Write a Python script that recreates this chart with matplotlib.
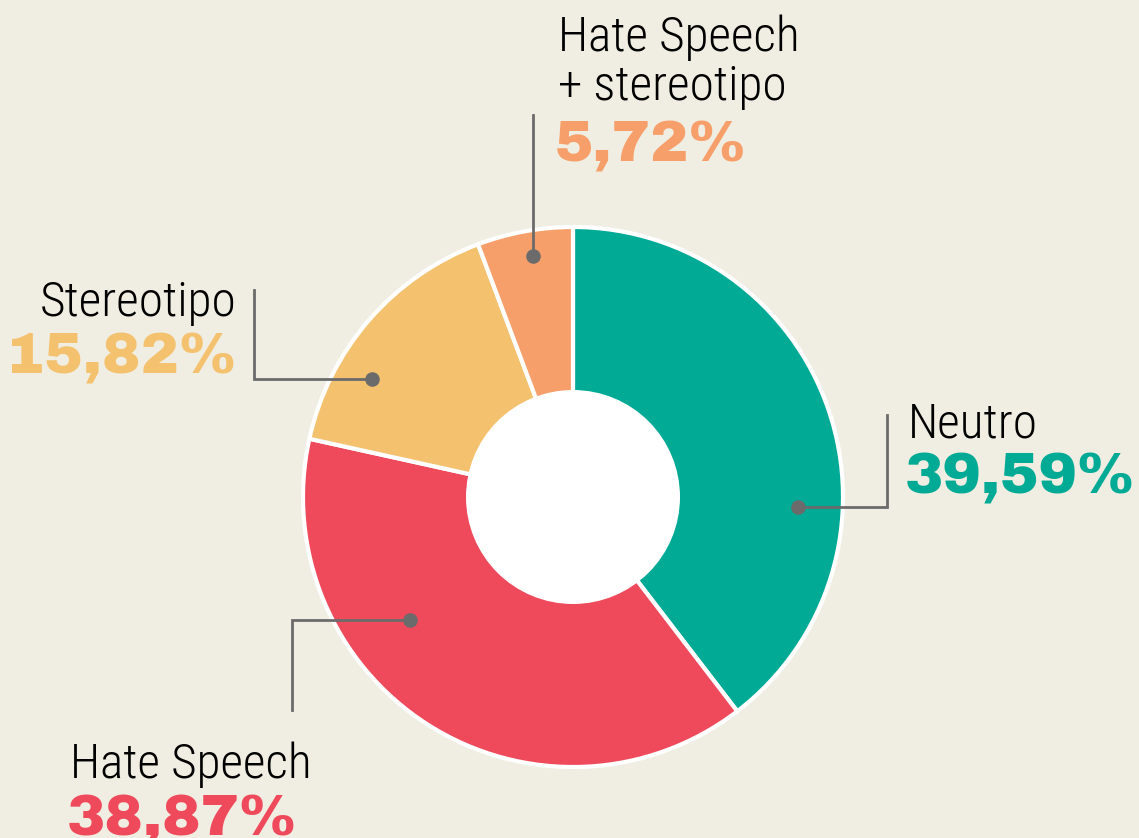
# Donut chart: distribuzione delle categorie (Neutro / Hate Speech / Stereotipo)
import matplotlib
matplotlib.use("Agg")
import matplotlib.pyplot as plt
from matplotlib.patches import Circle

# =============================================================================
# DATA
# =============================================================================

labels = ["Neutro", "Hate Speech", "Stereotipo", "Hate Speech\n+ stereotipo"]
values = [39.59, 38.87, 15.82, 5.72]
pct_labels = ["39,59%", "38,87%", "15,82%", "5,72%"]
colors = ["#00AA95", "#EF4A5C", "#F4C26F", "#F79F6A"]

BG = "#F0EEE2"
LINE = "#6B6B6B"
W, H = 1139, 838


def Y(y):
    # pixel row (from top) -> data y
    return H - y


# =============================================================================
# FIGURE
# =============================================================================

fig = plt.figure(figsize=(W / 100, H / 100), dpi=100, facecolor=BG)
ax = fig.add_axes([0, 0, 1, 1])
ax.set_facecolor(BG)

cx, cy, r_out, r_in = 573, Y(497), 270, 107

ax.pie(
    values,
    colors=colors,
    startangle=90,
    counterclock=False,
    radius=r_out,
    center=(cx, cy),
    wedgeprops=dict(edgecolor="white", linewidth=3),
)
ax.add_patch(Circle((cx, cy), r_in, facecolor="white", edgecolor="none", zorder=5))

ax.set_xlim(0, W)
ax.set_ylim(0, H)
ax.set_aspect("equal")
ax.axis("off")

# =============================================================================
# LEADER LINES
# =============================================================================

leaders = [
    [(798, 507), (887, 507), (887, 415)],
    [(410, 620), (292, 620), (292, 710)],
    [(372, 379), (254, 379), (254, 290)],
    [(533, 256), (533, 115)],
]

for pts in leaders:
    xs = [p[0] for p in pts]
    ys = [Y(p[1]) for p in pts]
    ax.plot(xs, ys, color=LINE, linewidth=2, zorder=6, solid_joinstyle="miter")
    ax.scatter([xs[0]], [ys[0]], s=110, color=LINE, zorder=7, linewidths=0)

# =============================================================================
# TEXTS
# =============================================================================

name_font = dict(family=["Roboto Condensed", "DejaVu Sans"], fontstretch="condensed",
                 fontweight="light", fontsize=35.5, color="black")
pct_font = dict(family=["Archivo Black", "Liberation Sans"], fontweight="bold",
                fontsize=41.5)

# (x, baseline of name, baseline of pct, ha)
text_pos = [
    (908, 438, 493, "left"),
    (70, 778, 835, "left"),
    (236, 316, 374, "right"),
    (558, 100, 162, "left"),
]

for (x, yb_name, yb_pct, ha), name, pct, col in zip(text_pos, labels, pct_labels, colors):
    ax.text(x, Y(yb_name), name, ha=ha, va="baseline",
            linespacing=1.08, **name_font)
    ax.text(x - 3 if ha == "left" else x, Y(yb_pct), pct, ha=ha,
            va="baseline", color=col, **pct_font)

fig.savefig("out.png", dpi=100, facecolor=BG)
